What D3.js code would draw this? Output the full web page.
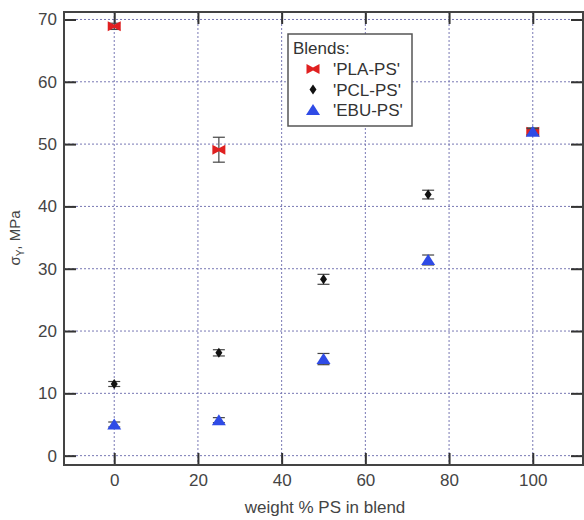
<!DOCTYPE html>
<html>
<head>
<meta charset="utf-8">
<script src="https://cdn.jsdelivr.net/npm/d3@7"></script>
<style>
  body { margin: 0; background: #fff; }
  svg { display: block; font-family: "Liberation Sans", Arial, sans-serif; }
</style>
</head>
<body>
<svg width="584" height="520"></svg>
<script>
// values
const xTicks = [0, 20, 40, 60, 80, 100];
const yTicks = [0, 10, 20, 30, 40, 50, 60, 70];

const plaX = [0, 25, 100];
const plaY = [68.9, 49.1, 52.0];
const plaErr = [0.5, 2.0, 0.6];

const pclX = [0, 25, 50, 75, 100];
const pclY = [11.5, 16.5, 28.3, 41.9, 52.0];
const pclErr = [0.4, 0.5, 0.8, 0.7, 0.5];

const ebuX = [0, 25, 50, 75, 100];
const ebuY = [5.0, 5.7, 15.5, 31.4, 52.0];
const ebuErr = [0.4, 0.4, 0.9, 0.8, 0.5];

const seriesNames = ["'PLA-PS'", "'PCL-PS'", "'EBU-PS'"];

const svg = d3.select("svg");
const plotL = 64, plotR = 583, plotT = 12, plotB = 465;

const x = d3.scaleLinear().domain([-12, 112]).range([plotL, plotR]);
const y = d3.scaleLinear().domain([-1.5, 71.2]).range([plotB, plotT]);

// grid
const grid = svg.append("g")
  .attr("stroke", "#7878b4")
  .attr("stroke-width", 1)
  .attr("stroke-dasharray", "2,2");
grid.selectAll("line.v").data(xTicks).enter().append("line")
  .attr("x1", d => x(d)).attr("x2", d => x(d))
  .attr("y1", plotT).attr("y2", plotB);
grid.selectAll("line.h").data(yTicks).enter().append("line")
  .attr("x1", plotL).attr("x2", plotR)
  .attr("y1", d => y(d)).attr("y2", d => y(d));

// axes with inward ticks
const tickLen = 12;
const axisStyle = g => {
  g.select(".domain").remove();
  g.selectAll(".tick line").attr("stroke", "#333").attr("stroke-width", 2);
  g.selectAll(".tick text").attr("fill", "#444").attr("font-size", 17);
};
svg.append("g").attr("transform", `translate(0,${plotB})`)
  .call(d3.axisBottom(x).tickValues(xTicks).tickSizeInner(-tickLen).tickPadding(9))
  .call(axisStyle);
svg.append("g").attr("transform", `translate(0,${plotT})`)
  .call(d3.axisTop(x).tickValues(xTicks).tickSizeInner(-tickLen).tickFormat(""))
  .call(axisStyle);
svg.append("g").attr("transform", `translate(${plotL},0)`)
  .call(d3.axisLeft(y).tickValues(yTicks).tickSizeInner(-tickLen).tickPadding(7))
  .call(axisStyle);
svg.append("g").attr("transform", `translate(${plotR},0)`)
  .call(d3.axisRight(y).tickValues(yTicks).tickSizeInner(-tickLen).tickFormat(""))
  .call(axisStyle);

// frame
svg.append("rect")
  .attr("x", plotL).attr("y", plotT)
  .attr("width", plotR - plotL).attr("height", plotB - plotT)
  .attr("fill", "none").attr("stroke", "#444").attr("stroke-width", 2);

// axis labels
svg.append("text")
  .attr("x", 325).attr("y", 513)
  .attr("text-anchor", "middle").attr("font-size", 17).attr("fill", "#444")
  .text("weight % PS in blend");
const yl = svg.append("text")
  .attr("transform", `translate(20,238) rotate(-90)`)
  .attr("text-anchor", "middle").attr("font-size", 15).attr("fill", "#444");
yl.append("tspan").text("σ");
yl.append("tspan").attr("font-size", 10).attr("dy", 4).text("Y");
yl.append("tspan").attr("dy", -4).text(", MPa");

// marker shapes
const bowtie = "M-6.5,-5L0,-1.5L6.5,-5L6.5,5L0,1.5L-6.5,5Z";
const diamond = "M0,-5L3.5,0L0,5L-3.5,0Z";
const triangle = "M0,-6L7,5L-7,5Z";

function drawSeries(xs, ys, errs, shape, color) {
  const data = xs.map((d, i) => ({ x: d, y: ys[i], e: errs[i] }));
  const g = svg.append("g");
  const eb = g.selectAll("g.err").data(data).enter().append("g")
    .attr("stroke", "#444").attr("stroke-width", 1.2);
  eb.append("line")
    .attr("x1", d => x(d.x)).attr("x2", d => x(d.x))
    .attr("y1", d => y(d.y - d.e)).attr("y2", d => y(d.y + d.e));
  eb.append("line")
    .attr("x1", d => x(d.x) - 6).attr("x2", d => x(d.x) + 6)
    .attr("y1", d => y(d.y - d.e)).attr("y2", d => y(d.y - d.e));
  eb.append("line")
    .attr("x1", d => x(d.x) - 6).attr("x2", d => x(d.x) + 6)
    .attr("y1", d => y(d.y + d.e)).attr("y2", d => y(d.y + d.e));
  g.selectAll("path").data(data).enter().append("path")
    .attr("d", shape)
    .attr("transform", d => `translate(${x(d.x)},${y(d.y)})`)
    .attr("fill", color);
}

drawSeries(plaX, plaY, plaErr, bowtie, "#e02020");
drawSeries(pclX, pclY, pclErr, diamond, "#111");
drawSeries(ebuX, ebuY, ebuErr, triangle, "#2f4be6");

// legend
const lg = svg.append("g");
lg.append("rect")
  .attr("x", 288).attr("y", 34).attr("width", 124).attr("height", 92)
  .attr("fill", "#fff").attr("stroke", "#555").attr("stroke-width", 1.5);
lg.append("text").attr("x", 293).attr("y", 54)
  .attr("font-size", 17).attr("fill", "#333").text("Blends:");
const shapes = [bowtie, diamond, triangle];
const colors = ["#e02020", "#111", "#2f4be6"];
seriesNames.forEach((name, i) => {
  const ly = 69 + i * 20.5;
  lg.append("path").attr("d", shapes[i])
    .attr("transform", `translate(313,${ly})`).attr("fill", colors[i]);
  lg.append("text").attr("x", 333).attr("y", ly + 6)
    .attr("font-size", 17).attr("fill", "#333").text(name);
});
</script>
</body>
</html>
